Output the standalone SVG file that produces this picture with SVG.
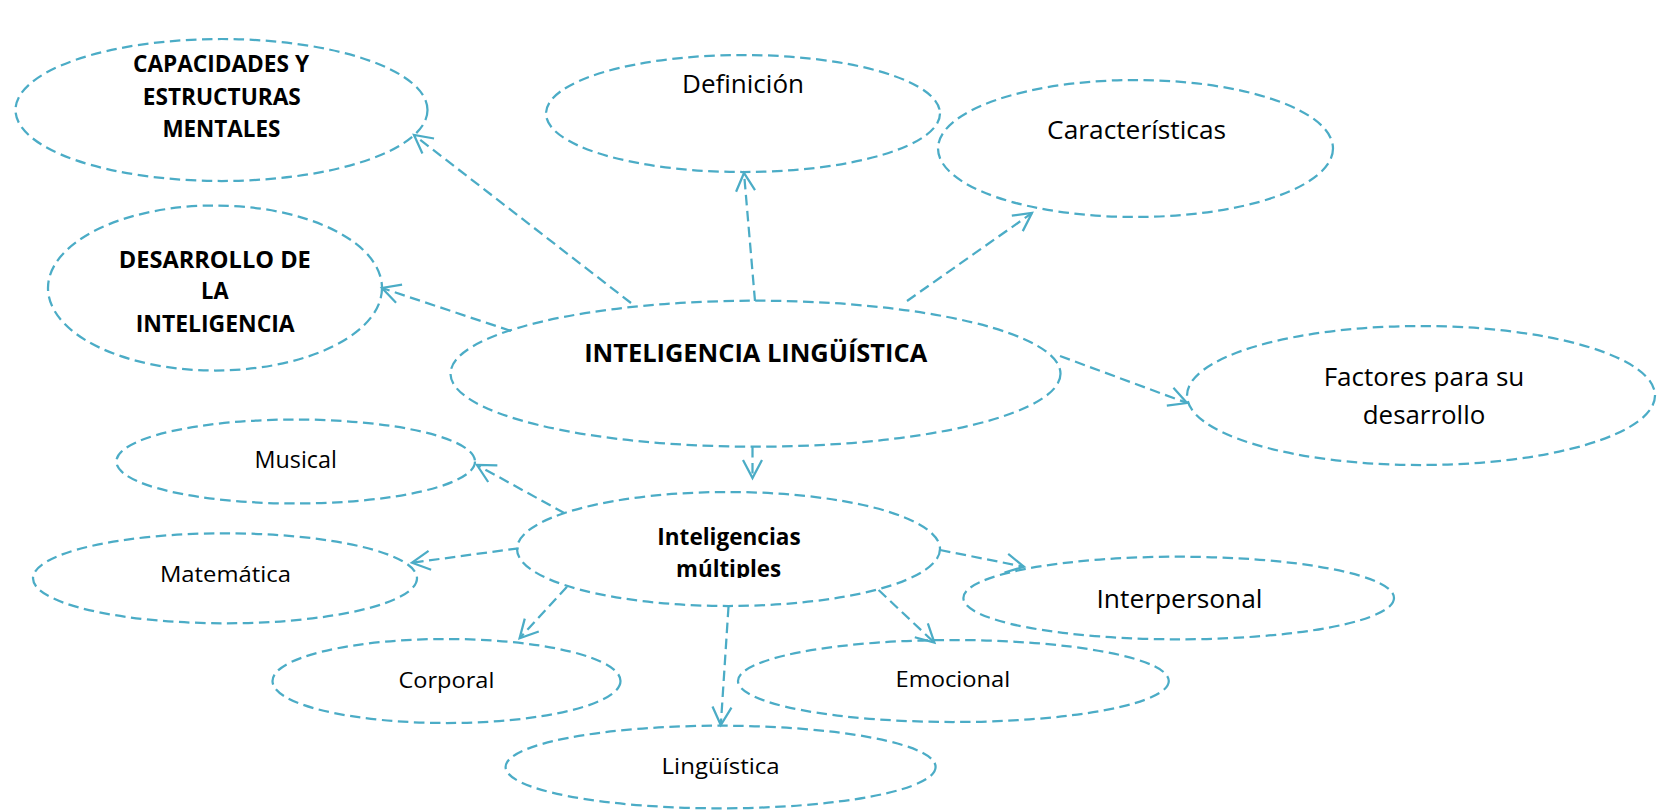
<svg xmlns="http://www.w3.org/2000/svg" width="1657" height="811" viewBox="0 0 1657 811">
<style>
.n{fill:#fff;stroke:#4BACC6;stroke-width:2.25;stroke-dasharray:10.5 5.5}
.t{font-family:"Open Sans","Noto Sans",sans-serif;fill:#000;text-anchor:middle}
.b{font-weight:bold}
.c{fill:none;stroke:#4BACC6;stroke-width:2.25;stroke-dasharray:10.5 5.5;marker-end:url(#ah)}
</style>
<defs>
<marker id="ah" markerUnits="userSpaceOnUse" markerWidth="22" markerHeight="22" refX="18" refY="10" orient="auto" overflow="visible">
<path d="M0,0.5 L18,10 L0,19.5" fill="none" stroke="#4BACC6" stroke-width="2.25" stroke-dasharray="none"/>
</marker>
<clipPath id="clipm"><rect x="600" y="550" width="260" height="28"/></clipPath>
</defs>
<rect width="1657" height="811" fill="#fff"/>
<g id="n-capacidades">
<ellipse class="n" cx="221.5" cy="110" rx="206" ry="71"/>
<text class="t b" font-size="22.5" x="221" y="72.3" textLength="176" lengthAdjust="spacingAndGlyphs">CAPACIDADES Y</text>
<text class="t b" font-size="22.5" x="221.8" y="105" textLength="158" lengthAdjust="spacingAndGlyphs">ESTRUCTURAS</text>
<text class="t b" font-size="22.5" x="221.4" y="137.3" textLength="118" lengthAdjust="spacingAndGlyphs">MENTALES</text>
</g>
<g id="n-desarrollo">
<ellipse class="n" cx="215" cy="288" rx="167" ry="82.5"/>
<text class="t b" font-size="23.5" x="214.8" y="267.7" textLength="192" lengthAdjust="spacingAndGlyphs">DESARROLLO DE</text>
<text class="t b" font-size="23.5" x="214.8" y="299.3" textLength="27.5" lengthAdjust="spacingAndGlyphs">LA</text>
<text class="t b" font-size="23.5" x="215.2" y="331.7" textLength="159" lengthAdjust="spacingAndGlyphs">INTELIGENCIA</text>
</g>
<g id="n-definicion">
<ellipse class="n" cx="743" cy="113.5" rx="197" ry="58.5"/>
<text class="t" font-size="26" x="743" y="92.7" textLength="122" lengthAdjust="spacingAndGlyphs">Definición</text>
</g>
<g id="n-caracteristicas">
<ellipse class="n" cx="1135.5" cy="148.5" rx="197.5" ry="68.5"/>
<text class="t" font-size="26" x="1136.6" y="139" textLength="179" lengthAdjust="spacingAndGlyphs">Características</text>
</g>
<g id="n-central">
<ellipse class="n" cx="755.5" cy="373.7" rx="305" ry="73"/>
<text class="t b" font-size="25.7" x="755.7" y="361.7" textLength="343" lengthAdjust="spacingAndGlyphs">INTELIGENCIA LINGÜÍSTICA</text>
</g>
<g id="n-factores">
<ellipse class="n" cx="1421" cy="395.5" rx="234" ry="69.5"/>
<text class="t" font-size="26" x="1424" y="386" textLength="200.7" lengthAdjust="spacingAndGlyphs">Factores para su</text>
<text class="t" font-size="26" x="1424" y="424" textLength="122.5" lengthAdjust="spacingAndGlyphs">desarrollo</text>
</g>
<g id="n-multiples">
<ellipse class="n" cx="728.5" cy="549" rx="211.5" ry="57"/>
<text class="t b" font-size="23" x="729" y="545" textLength="143.3" lengthAdjust="spacingAndGlyphs">Inteligencias</text>
<text class="t b" font-size="23" x="728.6" y="576.7" textLength="105" lengthAdjust="spacingAndGlyphs" clip-path="url(#clipm)">múltiples</text>
</g>
<g id="n-musical">
<ellipse class="n" cx="295.7" cy="461.5" rx="179.3" ry="42"/>
<text class="t" font-size="23" x="295.7" y="467.7" textLength="82.4" lengthAdjust="spacingAndGlyphs">Musical</text>
</g>
<g id="n-matematica">
<ellipse class="n" cx="225" cy="578.3" rx="192" ry="45"/>
<text class="t" font-size="22.5" x="225.4" y="582.3" textLength="131" lengthAdjust="spacingAndGlyphs">Matemática</text>
</g>
<g id="n-corporal">
<ellipse class="n" cx="446.5" cy="681" rx="174" ry="42"/>
<text class="t" font-size="22.5" x="446.4" y="687.7" textLength="96" lengthAdjust="spacingAndGlyphs">Corporal</text>
</g>
<g id="n-linguistica">
<ellipse class="n" cx="720.6" cy="767" rx="215" ry="41.3"/>
<text class="t" font-size="22.5" x="720.6" y="774" textLength="118" lengthAdjust="spacingAndGlyphs">Lingüística</text>
</g>
<g id="n-emocional">
<ellipse class="n" cx="953.4" cy="681" rx="215.4" ry="41"/>
<text class="t" font-size="22.5" x="952.9" y="687.3" textLength="114.7" lengthAdjust="spacingAndGlyphs">Emocional</text>
</g>
<g id="n-interpersonal">
<ellipse class="n" cx="1178.7" cy="598" rx="215.3" ry="41.3"/>
<text class="t" font-size="26" x="1179.5" y="607.7" textLength="166" lengthAdjust="spacingAndGlyphs">Interpersonal</text>
</g>
<g id="connectors">
<path class="c" d="M631,303 L414,135"/>
<path class="c" d="M511,331 L382,288"/>
<path class="c" d="M755,301 L744,173"/>
<path class="c" d="M907,301 L1032,213"/>
<path class="c" d="M1060,356 L1187,403"/>
<path class="c" d="M752.5,447 L752.5,478"/>
<path class="c" d="M564.7,513.3 L477,465"/>
<path class="c" d="M518.7,548.3 L412,562.7"/>
<path class="c" d="M567,586.7 L519.6,638.3"/>
<path class="c" d="M728.5,606.7 L720.8,725"/>
<path class="c" d="M878.6,590 L934.4,642.7"/>
<path class="c" d="M940,550 L1024,566.7"/>
</g>
</svg>
